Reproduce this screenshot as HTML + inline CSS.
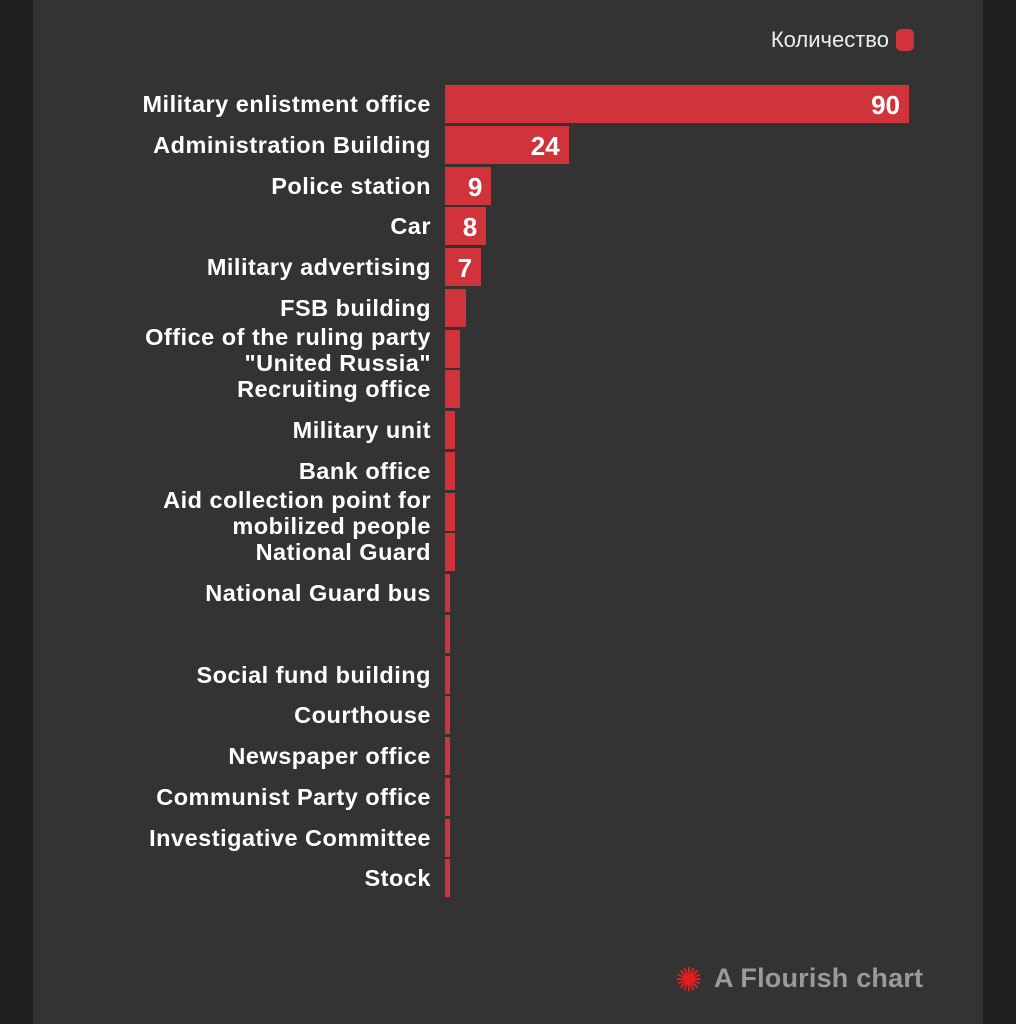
<!DOCTYPE html>
<html><head><meta charset="utf-8"><style>
body{margin:0;width:1016px;height:1024px;background:#1f1f1f;position:relative;overflow:hidden;font-family:"Liberation Sans","DejaVu Sans",sans-serif}
#main{position:absolute;left:33px;top:0;width:950px;height:1024px;background:#333}
.lbl{position:absolute;right:585px;color:#fff;font-weight:bold;font-size:23.5px;letter-spacing:0.5px;text-align:right;line-height:26px;white-space:nowrap}
.bar{position:absolute;left:445px;height:38px;background:#d0343a}
.val{position:absolute;color:#fff;font-weight:bold;font-size:26px;line-height:38px;text-align:right}
</style></head><body>
<div id="main"></div>
<div style="position:absolute;right:127px;top:27px;color:#eee;font-size:22px;line-height:26px">Количество</div>
<div style="position:absolute;left:896px;top:29px;width:18px;height:22px;border-radius:5px;background:#d0343a"></div>
<div id="c"></div>
<svg style="position:absolute;left:676px;top:966px" width="26" height="26" viewBox="-13 -13 26 26">
<g stroke="#e01e1e" stroke-width="2">
<line x1="-12" y1="0" x2="12" y2="0"/><line x1="0" y1="-12" x2="0" y2="12"/>
<line x1="-8.5" y1="-8.5" x2="8.5" y2="8.5"/><line x1="-8.5" y1="8.5" x2="8.5" y2="-8.5"/>
<line x1="-11" y1="-4.5" x2="11" y2="4.5"/><line x1="-11" y1="4.5" x2="11" y2="-4.5"/>
<line x1="-4.5" y1="-11" x2="4.5" y2="11"/><line x1="4.5" y1="-11" x2="-4.5" y2="11"/>
</g><circle r="6" fill="#e01e1e"/></svg>
<div style="position:absolute;left:714px;top:962px;color:#9a9a9a;font-weight:bold;font-size:27px;letter-spacing:0.2px;line-height:32px">A Flourish chart</div>
<script>
var d=[["Military enlistment office",90],["Administration Building",24],["Police station",9],["Car",8],["Military advertising",7],["FSB building",4],["Office of the ruling party<br>\"United Russia\"",3],["Recruiting office",3],["Military unit",2],["Bank office",2],["Aid collection point for<br>mobilized people",2],["National Guard",2],["National Guard bus",1],["",1],["Social fund building",1],["Courthouse",1],["Newspaper office",1],["Communist Party office",1],["Investigative Committee",1],["Stock",1]];
var h="";
d.forEach(function(r,i){var y=85+i*40.75;var w=r[1]*464/90;
var two=r[0].indexOf("<br>")>=0;
h+='<div class="lbl" style="top:'+(two?y-6:y+6)+'px">'+r[0]+'</div>';
h+='<div class="bar" style="top:'+y+'px;width:'+w+'px"></div>';
if(r[1]>=7)h+='<div class="val" style="top:'+(y+1)+'px;left:445px;width:'+(w-9)+'px">'+r[1]+'</div>';});
document.getElementById("c").innerHTML=h;
</script>
</body></html>
